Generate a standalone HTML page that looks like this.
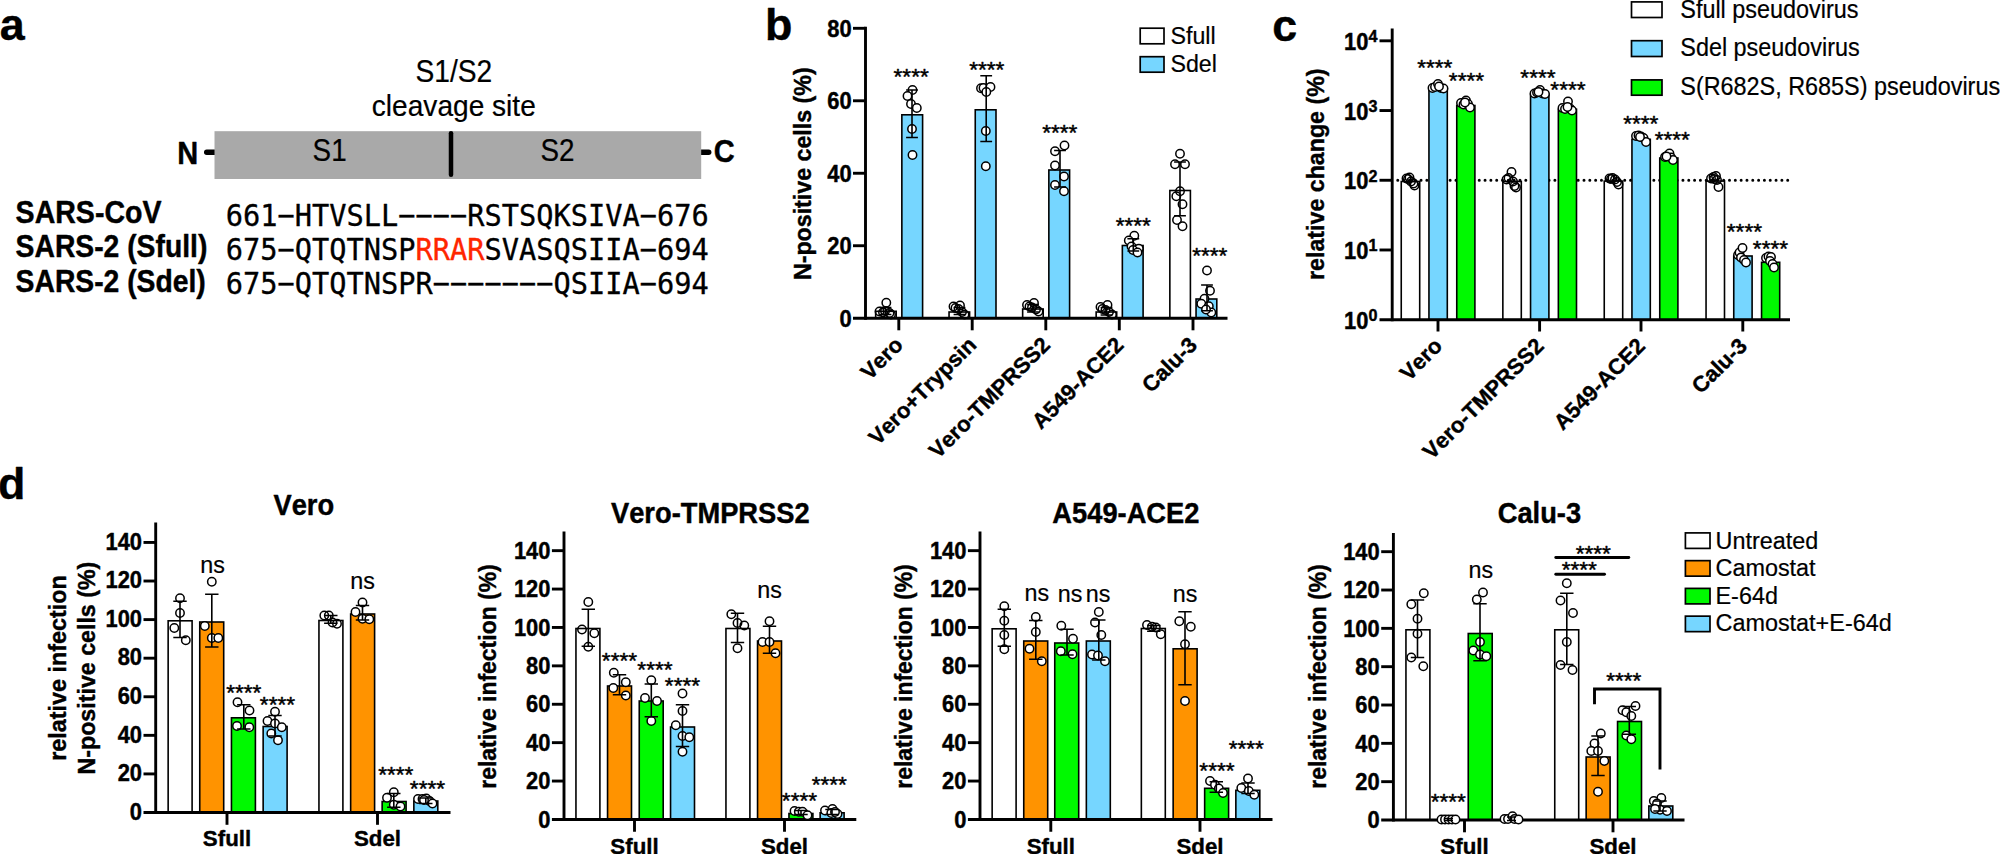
<!DOCTYPE html>
<html lang="en">
<head>
<meta charset="utf-8">
<title>Figure</title>
<style>
html,body{margin:0;padding:0;background:#fff;}
body{width:2000px;height:854px;overflow:hidden;}
svg{display:block;}
svg text{font-family:"Liberation Sans",sans-serif;fill:#000;font-kerning:none;}
svg text.m{font-family:"DejaVu Sans Mono","Liberation Mono",monospace;stroke-width:0.35px;}
svg text{stroke:#000;stroke-width:0.2px;stroke-linejoin:round;}
svg text[font-weight=bold]{stroke-width:0.4px;}
svg text.st{stroke-width:0.45px;}
svg text tspan[fill]{stroke:#FF2600;}
</style>
</head>
<body>
<svg width="2000" height="854" viewBox="0 0 2000 854">
<rect x="0" y="0" width="2000" height="854" fill="#fff"/>
<rect x="875.65" y="311.3" width="20.55" height="6.9" fill="#FFFFFF" stroke="#000" stroke-width="1.6"/>
<rect x="901.85" y="114.8" width="20.75" height="203.4" fill="#76D6FF" stroke="#000" stroke-width="1.6"/>
<rect x="949.05" y="312" width="20.55" height="6.2" fill="#FFFFFF" stroke="#000" stroke-width="1.6"/>
<rect x="975.25" y="109.8" width="20.75" height="208.4" fill="#76D6FF" stroke="#000" stroke-width="1.6"/>
<rect x="1022.65" y="309" width="20.55" height="9.2" fill="#FFFFFF" stroke="#000" stroke-width="1.6"/>
<rect x="1048.85" y="170" width="20.75" height="148.2" fill="#76D6FF" stroke="#000" stroke-width="1.6"/>
<rect x="1096.15" y="312" width="20.55" height="6.2" fill="#FFFFFF" stroke="#000" stroke-width="1.6"/>
<rect x="1122.35" y="245.5" width="20.75" height="72.7" fill="#76D6FF" stroke="#000" stroke-width="1.6"/>
<rect x="1169.85" y="190.5" width="20.55" height="127.7" fill="#FFFFFF" stroke="#000" stroke-width="1.6"/>
<rect x="1196.05" y="299" width="20.75" height="19.2" fill="#76D6FF" stroke="#000" stroke-width="1.6"/>
<line x1="1397.76" y1="180.3" x2="1788.5" y2="180.3" stroke="#000" stroke-width="3" stroke-linecap="round" stroke-dasharray="0 5.82"/>
<rect x="1401.25" y="181.5" width="18.45" height="138.2" fill="#FFFFFF" stroke="#000" stroke-width="1.6"/>
<rect x="1428.95" y="88.5" width="18.35" height="231.2" fill="#76D6FF" stroke="#000" stroke-width="1.6"/>
<rect x="1456.75" y="105.5" width="18.15" height="214.2" fill="#00F900" stroke="#000" stroke-width="1.6"/>
<rect x="1502.85" y="181.5" width="18.45" height="138.2" fill="#FFFFFF" stroke="#000" stroke-width="1.6"/>
<rect x="1530.55" y="94.3" width="18.35" height="225.4" fill="#76D6FF" stroke="#000" stroke-width="1.6"/>
<rect x="1558.35" y="109.3" width="18.15" height="210.4" fill="#00F900" stroke="#000" stroke-width="1.6"/>
<rect x="1604.25" y="181.1" width="18.45" height="138.6" fill="#FFFFFF" stroke="#000" stroke-width="1.6"/>
<rect x="1631.95" y="139.3" width="18.35" height="180.4" fill="#76D6FF" stroke="#000" stroke-width="1.6"/>
<rect x="1659.75" y="158" width="18.15" height="161.7" fill="#00F900" stroke="#000" stroke-width="1.6"/>
<rect x="1706.05" y="181.1" width="18.45" height="138.6" fill="#FFFFFF" stroke="#000" stroke-width="1.6"/>
<rect x="1733.75" y="256" width="18.35" height="63.7" fill="#76D6FF" stroke="#000" stroke-width="1.6"/>
<rect x="1761.55" y="262.3" width="18.15" height="57.4" fill="#00F900" stroke="#000" stroke-width="1.6"/>
<rect x="168.15" y="620.8" width="23.95" height="191.7" fill="#FFFFFF" stroke="#000" stroke-width="1.6"/>
<rect x="199.75" y="622" width="23.95" height="190.5" fill="#FF9300" stroke="#000" stroke-width="1.6"/>
<rect x="231.45" y="717.8" width="23.95" height="94.7" fill="#00F900" stroke="#000" stroke-width="1.6"/>
<rect x="263.15" y="726.5" width="23.95" height="86" fill="#76D6FF" stroke="#000" stroke-width="1.6"/>
<rect x="318.95" y="620.5" width="23.95" height="192" fill="#FFFFFF" stroke="#000" stroke-width="1.6"/>
<rect x="350.65" y="614" width="23.95" height="198.5" fill="#FF9300" stroke="#000" stroke-width="1.6"/>
<rect x="382.15" y="801.5" width="23.95" height="11" fill="#00F900" stroke="#000" stroke-width="1.6"/>
<rect x="413.85" y="801" width="23.95" height="11.5" fill="#76D6FF" stroke="#000" stroke-width="1.6"/>
<rect x="575.95" y="628.5" width="23.95" height="190.95" fill="#FFFFFF" stroke="#000" stroke-width="1.6"/>
<rect x="607.55" y="686" width="23.95" height="133.45" fill="#FF9300" stroke="#000" stroke-width="1.6"/>
<rect x="639.25" y="701" width="23.95" height="118.45" fill="#00F900" stroke="#000" stroke-width="1.6"/>
<rect x="670.55" y="727" width="23.95" height="92.45" fill="#76D6FF" stroke="#000" stroke-width="1.6"/>
<rect x="725.95" y="628.5" width="23.95" height="190.95" fill="#FFFFFF" stroke="#000" stroke-width="1.6"/>
<rect x="757.55" y="641" width="23.95" height="178.45" fill="#FF9300" stroke="#000" stroke-width="1.6"/>
<rect x="788.95" y="813.5" width="23.95" height="5.95" fill="#00F900" stroke="#000" stroke-width="1.6"/>
<rect x="820.15" y="812.8" width="23.95" height="6.65" fill="#76D6FF" stroke="#000" stroke-width="1.6"/>
<rect x="992.15" y="628.8" width="23.95" height="190.65" fill="#FFFFFF" stroke="#000" stroke-width="1.6"/>
<rect x="1023.75" y="641" width="23.95" height="178.45" fill="#FF9300" stroke="#000" stroke-width="1.6"/>
<rect x="1054.75" y="643" width="23.95" height="176.45" fill="#00F900" stroke="#000" stroke-width="1.6"/>
<rect x="1086.35" y="641" width="23.95" height="178.45" fill="#76D6FF" stroke="#000" stroke-width="1.6"/>
<rect x="1141.35" y="628.5" width="23.95" height="190.95" fill="#FFFFFF" stroke="#000" stroke-width="1.6"/>
<rect x="1173.15" y="648.8" width="23.95" height="170.65" fill="#FF9300" stroke="#000" stroke-width="1.6"/>
<rect x="1204.65" y="788.3" width="23.95" height="31.15" fill="#00F900" stroke="#000" stroke-width="1.6"/>
<rect x="1235.85" y="790.3" width="23.95" height="29.15" fill="#76D6FF" stroke="#000" stroke-width="1.6"/>
<rect x="1405.95" y="629.8" width="23.95" height="190.2" fill="#FFFFFF" stroke="#000" stroke-width="1.6"/>
<rect x="1468.25" y="633.5" width="23.95" height="186.5" fill="#00F900" stroke="#000" stroke-width="1.6"/>
<rect x="1554.75" y="629.8" width="23.95" height="190.2" fill="#FFFFFF" stroke="#000" stroke-width="1.6"/>
<rect x="1586.15" y="757" width="23.95" height="63" fill="#FF9300" stroke="#000" stroke-width="1.6"/>
<rect x="1617.55" y="721.5" width="23.95" height="98.5" fill="#00F900" stroke="#000" stroke-width="1.6"/>
<rect x="1648.85" y="806" width="23.95" height="14" fill="#76D6FF" stroke="#000" stroke-width="1.6"/>
<line x1="865.5" y1="26.7" x2="865.5" y2="319.65" stroke="#000" stroke-width="2.9"/>
<line x1="853" y1="318.2" x2="1227.5" y2="318.2" stroke="#000" stroke-width="2.9"/>
<line x1="853" y1="245.73" x2="865.5" y2="245.73" stroke="#000" stroke-width="2.9"/>
<line x1="853" y1="173.25" x2="865.5" y2="173.25" stroke="#000" stroke-width="2.9"/>
<line x1="853" y1="100.78" x2="865.5" y2="100.78" stroke="#000" stroke-width="2.9"/>
<line x1="853" y1="28.3" x2="865.5" y2="28.3" stroke="#000" stroke-width="2.9"/>
<line x1="898.8" y1="318.2" x2="898.8" y2="330.3" stroke="#000" stroke-width="2.9"/>
<line x1="972.2" y1="318.2" x2="972.2" y2="330.3" stroke="#000" stroke-width="2.9"/>
<line x1="1045.8" y1="318.2" x2="1045.8" y2="330.3" stroke="#000" stroke-width="2.9"/>
<line x1="1119.3" y1="318.2" x2="1119.3" y2="330.3" stroke="#000" stroke-width="2.9"/>
<line x1="1193" y1="318.2" x2="1193" y2="330.3" stroke="#000" stroke-width="2.9"/>
<line x1="1392.2" y1="28.5" x2="1392.2" y2="321.15" stroke="#000" stroke-width="2.9"/>
<line x1="1379.5" y1="319.7" x2="1790" y2="319.7" stroke="#000" stroke-width="2.9"/>
<line x1="1379.5" y1="249.98" x2="1392.2" y2="249.98" stroke="#000" stroke-width="2.9"/>
<line x1="1379.5" y1="180.26" x2="1392.2" y2="180.26" stroke="#000" stroke-width="2.9"/>
<line x1="1379.5" y1="110.54" x2="1392.2" y2="110.54" stroke="#000" stroke-width="2.9"/>
<line x1="1379.5" y1="40.82" x2="1392.2" y2="40.82" stroke="#000" stroke-width="2.9"/>
<line x1="1438" y1="319.7" x2="1438" y2="331.5" stroke="#000" stroke-width="2.9"/>
<line x1="1539.6" y1="319.7" x2="1539.6" y2="331.5" stroke="#000" stroke-width="2.9"/>
<line x1="1641" y1="319.7" x2="1641" y2="331.5" stroke="#000" stroke-width="2.9"/>
<line x1="1742.8" y1="319.7" x2="1742.8" y2="331.5" stroke="#000" stroke-width="2.9"/>
<line x1="155.7" y1="522.5" x2="155.7" y2="813.95" stroke="#000" stroke-width="2.9"/>
<line x1="143.5" y1="812.5" x2="450.5" y2="812.5" stroke="#000" stroke-width="2.9"/>
<line x1="143.5" y1="773.92" x2="155.7" y2="773.92" stroke="#000" stroke-width="2.9"/>
<line x1="143.5" y1="735.34" x2="155.7" y2="735.34" stroke="#000" stroke-width="2.9"/>
<line x1="143.5" y1="696.76" x2="155.7" y2="696.76" stroke="#000" stroke-width="2.9"/>
<line x1="143.5" y1="658.18" x2="155.7" y2="658.18" stroke="#000" stroke-width="2.9"/>
<line x1="143.5" y1="619.6" x2="155.7" y2="619.6" stroke="#000" stroke-width="2.9"/>
<line x1="143.5" y1="581.02" x2="155.7" y2="581.02" stroke="#000" stroke-width="2.9"/>
<line x1="143.5" y1="542.44" x2="155.7" y2="542.44" stroke="#000" stroke-width="2.9"/>
<line x1="227" y1="812.5" x2="227" y2="824.8" stroke="#000" stroke-width="2.9"/>
<line x1="377.5" y1="812.5" x2="377.5" y2="824.8" stroke="#000" stroke-width="2.9"/>
<line x1="564" y1="531.5" x2="564" y2="820.9" stroke="#000" stroke-width="2.9"/>
<line x1="551.9" y1="819.45" x2="856.3" y2="819.45" stroke="#000" stroke-width="2.9"/>
<line x1="551.9" y1="781.05" x2="564" y2="781.05" stroke="#000" stroke-width="2.9"/>
<line x1="551.9" y1="742.65" x2="564" y2="742.65" stroke="#000" stroke-width="2.9"/>
<line x1="551.9" y1="704.26" x2="564" y2="704.26" stroke="#000" stroke-width="2.9"/>
<line x1="551.9" y1="665.86" x2="564" y2="665.86" stroke="#000" stroke-width="2.9"/>
<line x1="551.9" y1="627.46" x2="564" y2="627.46" stroke="#000" stroke-width="2.9"/>
<line x1="551.9" y1="589.06" x2="564" y2="589.06" stroke="#000" stroke-width="2.9"/>
<line x1="551.9" y1="550.66" x2="564" y2="550.66" stroke="#000" stroke-width="2.9"/>
<line x1="634.5" y1="819.45" x2="634.5" y2="831.75" stroke="#000" stroke-width="2.9"/>
<line x1="784.5" y1="819.45" x2="784.5" y2="831.75" stroke="#000" stroke-width="2.9"/>
<line x1="980" y1="531.5" x2="980" y2="820.9" stroke="#000" stroke-width="2.9"/>
<line x1="967.9" y1="819.45" x2="1272.5" y2="819.45" stroke="#000" stroke-width="2.9"/>
<line x1="967.9" y1="781.05" x2="980" y2="781.05" stroke="#000" stroke-width="2.9"/>
<line x1="967.9" y1="742.65" x2="980" y2="742.65" stroke="#000" stroke-width="2.9"/>
<line x1="967.9" y1="704.26" x2="980" y2="704.26" stroke="#000" stroke-width="2.9"/>
<line x1="967.9" y1="665.86" x2="980" y2="665.86" stroke="#000" stroke-width="2.9"/>
<line x1="967.9" y1="627.46" x2="980" y2="627.46" stroke="#000" stroke-width="2.9"/>
<line x1="967.9" y1="589.06" x2="980" y2="589.06" stroke="#000" stroke-width="2.9"/>
<line x1="967.9" y1="550.66" x2="980" y2="550.66" stroke="#000" stroke-width="2.9"/>
<line x1="1050.8" y1="819.45" x2="1050.8" y2="831.75" stroke="#000" stroke-width="2.9"/>
<line x1="1200" y1="819.45" x2="1200" y2="831.75" stroke="#000" stroke-width="2.9"/>
<line x1="1393.4" y1="533" x2="1393.4" y2="821.45" stroke="#000" stroke-width="2.9"/>
<line x1="1381.2" y1="820" x2="1684.5" y2="820" stroke="#000" stroke-width="2.9"/>
<line x1="1381.2" y1="781.67" x2="1393.4" y2="781.67" stroke="#000" stroke-width="2.9"/>
<line x1="1381.2" y1="743.34" x2="1393.4" y2="743.34" stroke="#000" stroke-width="2.9"/>
<line x1="1381.2" y1="705.01" x2="1393.4" y2="705.01" stroke="#000" stroke-width="2.9"/>
<line x1="1381.2" y1="666.68" x2="1393.4" y2="666.68" stroke="#000" stroke-width="2.9"/>
<line x1="1381.2" y1="628.35" x2="1393.4" y2="628.35" stroke="#000" stroke-width="2.9"/>
<line x1="1381.2" y1="590.02" x2="1393.4" y2="590.02" stroke="#000" stroke-width="2.9"/>
<line x1="1381.2" y1="551.69" x2="1393.4" y2="551.69" stroke="#000" stroke-width="2.9"/>
<line x1="1464.5" y1="820" x2="1464.5" y2="832.3" stroke="#000" stroke-width="2.9"/>
<line x1="1613" y1="820" x2="1613" y2="832.3" stroke="#000" stroke-width="2.9"/>
<g fill="#fff" stroke="#000" stroke-width="1.5">
<circle cx="879.5" cy="311.5" r="4.2" fill="none"/>
<circle cx="883" cy="312.5" r="4.2" fill="none"/>
<circle cx="886.3" cy="302.7" r="4.2" fill="none"/>
<circle cx="885" cy="311" r="4.2" fill="none"/>
<circle cx="889.5" cy="313" r="4.2" fill="none"/>
<circle cx="891" cy="314.5" r="4.2" fill="none"/>
<circle cx="953.5" cy="306.5" r="4.2" fill="none"/>
<circle cx="955.5" cy="308" r="4.2" fill="none"/>
<circle cx="958.5" cy="309" r="4.2" fill="none"/>
<circle cx="960" cy="305.5" r="4.2" fill="none"/>
<circle cx="962" cy="312" r="4.2" fill="none"/>
<circle cx="964.5" cy="314.5" r="4.2" fill="none"/>
<circle cx="1027" cy="305" r="4.2" fill="none"/>
<circle cx="1029.5" cy="306.5" r="4.2" fill="none"/>
<circle cx="1032" cy="307.5" r="4.2" fill="none"/>
<circle cx="1034" cy="303" r="4.2" fill="none"/>
<circle cx="1036" cy="309.5" r="4.2" fill="none"/>
<circle cx="1038.5" cy="311.5" r="4.2" fill="none"/>
<circle cx="1100.5" cy="307" r="4.2" fill="none"/>
<circle cx="1102.5" cy="309" r="4.2" fill="none"/>
<circle cx="1105.5" cy="310" r="4.2" fill="none"/>
<circle cx="1107.5" cy="305" r="4.2" fill="none"/>
<circle cx="1109" cy="312" r="4.2" fill="none"/>
<circle cx="1112" cy="314.5" r="4.2" fill="none"/>
<circle cx="912.5" cy="90" r="4.2"/>
<circle cx="907.5" cy="96" r="4.2"/>
<circle cx="911" cy="104" r="4.2"/>
<circle cx="916.8" cy="108" r="4.2"/>
<circle cx="912" cy="129" r="4.2"/>
<circle cx="912.5" cy="155" r="4.2"/>
<circle cx="981" cy="88.2" r="4.2"/>
<circle cx="983.5" cy="88" r="4.2"/>
<circle cx="990.5" cy="87" r="4.2"/>
<circle cx="986.3" cy="92" r="4.2"/>
<circle cx="985.8" cy="131" r="4.2"/>
<circle cx="985.8" cy="166.2" r="4.2"/>
<circle cx="1064.5" cy="145.5" r="4.2"/>
<circle cx="1055" cy="151.3" r="4.2"/>
<circle cx="1055" cy="165.5" r="4.2"/>
<circle cx="1064" cy="176.5" r="4.2"/>
<circle cx="1055" cy="185" r="4.2"/>
<circle cx="1064" cy="191.2" r="4.2"/>
<circle cx="1134.3" cy="235.7" r="4.2"/>
<circle cx="1128.8" cy="240.5" r="4.2"/>
<circle cx="1131.5" cy="246.5" r="4.2"/>
<circle cx="1138.8" cy="248.7" r="4.2"/>
<circle cx="1133" cy="250" r="4.2"/>
<circle cx="1137.5" cy="252.5" r="4.2"/>
<circle cx="1180" cy="153.8" r="4.2" fill="none"/>
<circle cx="1175" cy="164.3" r="4.2" fill="none"/>
<circle cx="1185" cy="164.3" r="4.2" fill="none"/>
<circle cx="1180" cy="191.3" r="4.2" fill="none"/>
<circle cx="1176.3" cy="196.3" r="4.2" fill="none"/>
<circle cx="1182.5" cy="204.3" r="4.2" fill="none"/>
<circle cx="1177" cy="220" r="4.2" fill="none"/>
<circle cx="1182.5" cy="226.3" r="4.2" fill="none"/>
<circle cx="1207" cy="270.5" r="4.2"/>
<circle cx="1210" cy="290.8" r="4.2"/>
<circle cx="1204.5" cy="298.8" r="4.2"/>
<circle cx="1201.3" cy="303.8" r="4.2"/>
<circle cx="1208.8" cy="306.3" r="4.2"/>
<circle cx="1211.3" cy="312.5" r="4.2"/>
<circle cx="1206" cy="309.5" r="4.2"/>
<circle cx="1406.5" cy="178.5" r="4.2" fill="none"/>
<circle cx="1409.5" cy="177.5" r="4.2" fill="none"/>
<circle cx="1411" cy="181.5" r="4.2" fill="none"/>
<circle cx="1413.5" cy="183.5" r="4.2" fill="none"/>
<circle cx="1414.5" cy="185.5" r="4.2" fill="none"/>
<circle cx="1408" cy="179" r="4.2" fill="none"/>
<circle cx="1432.5" cy="88" r="4.2"/>
<circle cx="1435" cy="87" r="4.2"/>
<circle cx="1438" cy="84" r="4.2"/>
<circle cx="1441" cy="88" r="4.2"/>
<circle cx="1443.5" cy="88.5" r="4.2"/>
<circle cx="1439" cy="86.5" r="4.2"/>
<circle cx="1461" cy="103" r="4.2"/>
<circle cx="1463.5" cy="104.5" r="4.2"/>
<circle cx="1466" cy="100.5" r="4.2"/>
<circle cx="1468" cy="104" r="4.2"/>
<circle cx="1470" cy="107.5" r="4.2"/>
<circle cx="1465" cy="102.5" r="4.2"/>
<circle cx="1506.5" cy="179.5" r="4.2" fill="none"/>
<circle cx="1508.5" cy="178" r="4.2" fill="none"/>
<circle cx="1511.5" cy="172" r="4.2" fill="none"/>
<circle cx="1513" cy="181.5" r="4.2" fill="none"/>
<circle cx="1514.5" cy="186" r="4.2" fill="none"/>
<circle cx="1516" cy="187.5" r="4.2" fill="none"/>
<circle cx="1534.5" cy="93.5" r="4.2"/>
<circle cx="1537" cy="92.5" r="4.2"/>
<circle cx="1540" cy="90" r="4.2"/>
<circle cx="1542.5" cy="93.5" r="4.2"/>
<circle cx="1545" cy="94" r="4.2"/>
<circle cx="1538.5" cy="92" r="4.2"/>
<circle cx="1562.5" cy="108" r="4.2"/>
<circle cx="1565" cy="109" r="4.2"/>
<circle cx="1568" cy="101.5" r="4.2"/>
<circle cx="1570" cy="108.5" r="4.2"/>
<circle cx="1572" cy="110.5" r="4.2"/>
<circle cx="1567.5" cy="107" r="4.2"/>
<circle cx="1609.5" cy="178.5" r="4.2" fill="none"/>
<circle cx="1612.5" cy="178" r="4.2" fill="none"/>
<circle cx="1615" cy="179.5" r="4.2" fill="none"/>
<circle cx="1617" cy="182" r="4.2" fill="none"/>
<circle cx="1618.5" cy="184.5" r="4.2" fill="none"/>
<circle cx="1611" cy="179" r="4.2" fill="none"/>
<circle cx="1636" cy="136" r="4.2"/>
<circle cx="1638.5" cy="135.5" r="4.2"/>
<circle cx="1641" cy="136.5" r="4.2"/>
<circle cx="1643.5" cy="138" r="4.2"/>
<circle cx="1646" cy="142" r="4.2"/>
<circle cx="1640" cy="137" r="4.2"/>
<circle cx="1665" cy="157" r="4.2"/>
<circle cx="1667.5" cy="155.5" r="4.2"/>
<circle cx="1669.5" cy="153.5" r="4.2"/>
<circle cx="1671" cy="157.5" r="4.2"/>
<circle cx="1673" cy="160" r="4.2"/>
<circle cx="1666.5" cy="156.5" r="4.2"/>
<circle cx="1711" cy="178.5" r="4.2" fill="none"/>
<circle cx="1713.5" cy="177" r="4.2" fill="none"/>
<circle cx="1716" cy="176" r="4.2" fill="none"/>
<circle cx="1717" cy="180" r="4.2" fill="none"/>
<circle cx="1718.5" cy="187" r="4.2" fill="none"/>
<circle cx="1714" cy="179" r="4.2" fill="none"/>
<circle cx="1738" cy="255" r="4.2"/>
<circle cx="1739.5" cy="252.5" r="4.2"/>
<circle cx="1742.5" cy="248" r="4.2"/>
<circle cx="1741" cy="257.5" r="4.2"/>
<circle cx="1744" cy="260" r="4.2"/>
<circle cx="1746" cy="262.5" r="4.2"/>
<circle cx="1766" cy="258" r="4.2"/>
<circle cx="1768.5" cy="256.5" r="4.2"/>
<circle cx="1771" cy="257" r="4.2"/>
<circle cx="1770" cy="261" r="4.2"/>
<circle cx="1772.5" cy="264" r="4.2"/>
<circle cx="1774" cy="267.5" r="4.2"/>
<circle cx="180" cy="598.3" r="4.2" fill="none"/>
<circle cx="180" cy="613" r="4.2" fill="none"/>
<circle cx="174.3" cy="628" r="4.2" fill="none"/>
<circle cx="185.8" cy="640.3" r="4.2" fill="none"/>
<circle cx="211.8" cy="581.8" r="4.2"/>
<circle cx="204.8" cy="626" r="4.2"/>
<circle cx="211.8" cy="638" r="4.2"/>
<circle cx="218.3" cy="638" r="4.2"/>
<circle cx="237.5" cy="702.3" r="4.2"/>
<circle cx="249.5" cy="710.5" r="4.2"/>
<circle cx="237" cy="726" r="4.2"/>
<circle cx="249.3" cy="727.3" r="4.2"/>
<circle cx="275" cy="711.8" r="4.2"/>
<circle cx="267.5" cy="721" r="4.2"/>
<circle cx="275" cy="723.5" r="4.2"/>
<circle cx="281.8" cy="727.3" r="4.2"/>
<circle cx="271.3" cy="733.5" r="4.2"/>
<circle cx="278" cy="740.3" r="4.2"/>
<circle cx="324.3" cy="615.5" r="4.2" fill="none"/>
<circle cx="328.8" cy="615.5" r="4.2" fill="none"/>
<circle cx="332.5" cy="622.5" r="4.2" fill="none"/>
<circle cx="337" cy="623.8" r="4.2" fill="none"/>
<circle cx="362.5" cy="602.5" r="4.2"/>
<circle cx="355.5" cy="612" r="4.2"/>
<circle cx="362.5" cy="618.8" r="4.2"/>
<circle cx="369.3" cy="619.3" r="4.2"/>
<circle cx="393.8" cy="792.3" r="4.2"/>
<circle cx="387" cy="797.8" r="4.2"/>
<circle cx="393.8" cy="804.8" r="4.2"/>
<circle cx="400.5" cy="806.5" r="4.2"/>
<circle cx="418" cy="799" r="4.2"/>
<circle cx="422.5" cy="799" r="4.2"/>
<circle cx="426.3" cy="798.5" r="4.2"/>
<circle cx="429.5" cy="801" r="4.2"/>
<circle cx="432.5" cy="803.5" r="4.2"/>
<circle cx="424" cy="800" r="4.2"/>
<circle cx="588.3" cy="602" r="4.2" fill="none"/>
<circle cx="582" cy="629.5" r="4.2" fill="none"/>
<circle cx="594.3" cy="633.3" r="4.2" fill="none"/>
<circle cx="588.3" cy="646.8" r="4.2" fill="none"/>
<circle cx="613.8" cy="672.8" r="4.2"/>
<circle cx="625.8" cy="682.3" r="4.2"/>
<circle cx="613.3" cy="688" r="4.2"/>
<circle cx="625.8" cy="695.5" r="4.2"/>
<circle cx="651.3" cy="680.3" r="4.2"/>
<circle cx="645" cy="698" r="4.2"/>
<circle cx="657" cy="701" r="4.2"/>
<circle cx="651.3" cy="721" r="4.2"/>
<circle cx="682.5" cy="693.5" r="4.2"/>
<circle cx="682.5" cy="711" r="4.2"/>
<circle cx="675.8" cy="725.3" r="4.2"/>
<circle cx="682.5" cy="736" r="4.2"/>
<circle cx="689.3" cy="737.3" r="4.2"/>
<circle cx="682.5" cy="751.8" r="4.2"/>
<circle cx="731.3" cy="614.3" r="4.2" fill="none"/>
<circle cx="737.5" cy="623" r="4.2" fill="none"/>
<circle cx="744.3" cy="625.5" r="4.2" fill="none"/>
<circle cx="737.5" cy="648.3" r="4.2" fill="none"/>
<circle cx="769.5" cy="621.3" r="4.2"/>
<circle cx="762.5" cy="642" r="4.2"/>
<circle cx="769.5" cy="642" r="4.2"/>
<circle cx="775.5" cy="653.3" r="4.2"/>
<circle cx="794.5" cy="811" r="4.2"/>
<circle cx="798.8" cy="811.8" r="4.2"/>
<circle cx="802.5" cy="811.8" r="4.2"/>
<circle cx="807.5" cy="815.3" r="4.2"/>
<circle cx="825" cy="810.5" r="4.2"/>
<circle cx="832.5" cy="809" r="4.2"/>
<circle cx="831.3" cy="813" r="4.2"/>
<circle cx="837.5" cy="814" r="4.2"/>
<circle cx="835" cy="812" r="4.2"/>
<circle cx="1004.3" cy="606.3" r="4.2" fill="none"/>
<circle cx="1004.3" cy="620.8" r="4.2" fill="none"/>
<circle cx="1004.3" cy="635" r="4.2" fill="none"/>
<circle cx="1004.3" cy="649.3" r="4.2" fill="none"/>
<circle cx="1035.8" cy="617" r="4.2"/>
<circle cx="1035.8" cy="632" r="4.2"/>
<circle cx="1029.5" cy="648.8" r="4.2"/>
<circle cx="1041.8" cy="661.3" r="4.2"/>
<circle cx="1061.3" cy="625.8" r="4.2"/>
<circle cx="1073" cy="638.8" r="4.2"/>
<circle cx="1060.8" cy="651.3" r="4.2"/>
<circle cx="1072.5" cy="654.3" r="4.2"/>
<circle cx="1098.8" cy="612" r="4.2"/>
<circle cx="1095" cy="622.5" r="4.2"/>
<circle cx="1101.3" cy="635" r="4.2"/>
<circle cx="1092" cy="654.5" r="4.2"/>
<circle cx="1098" cy="655.5" r="4.2"/>
<circle cx="1105" cy="661.3" r="4.2"/>
<circle cx="1147" cy="625" r="4.2" fill="none"/>
<circle cx="1152" cy="626.8" r="4.2" fill="none"/>
<circle cx="1155.8" cy="627.5" r="4.2" fill="none"/>
<circle cx="1160.8" cy="634.3" r="4.2" fill="none"/>
<circle cx="1179.3" cy="621.3" r="4.2"/>
<circle cx="1190.8" cy="626.8" r="4.2"/>
<circle cx="1185" cy="644.3" r="4.2"/>
<circle cx="1185" cy="701" r="4.2"/>
<circle cx="1210" cy="781" r="4.2"/>
<circle cx="1215" cy="784.8" r="4.2"/>
<circle cx="1218.8" cy="788.5" r="4.2"/>
<circle cx="1223" cy="793" r="4.2"/>
<circle cx="1248" cy="778.5" r="4.2"/>
<circle cx="1241.3" cy="788" r="4.2"/>
<circle cx="1248.8" cy="791" r="4.2"/>
<circle cx="1254.3" cy="794.8" r="4.2"/>
<circle cx="1423.8" cy="593.3" r="4.2" fill="none"/>
<circle cx="1411.3" cy="604.3" r="4.2" fill="none"/>
<circle cx="1417.5" cy="618.8" r="4.2" fill="none"/>
<circle cx="1417.5" cy="633.8" r="4.2" fill="none"/>
<circle cx="1411.3" cy="657.5" r="4.2" fill="none"/>
<circle cx="1423.3" cy="666.3" r="4.2" fill="none"/>
<circle cx="1441.5" cy="819.5" r="4.2"/>
<circle cx="1445" cy="819.5" r="4.2"/>
<circle cx="1448.5" cy="819.5" r="4.2"/>
<circle cx="1452" cy="819.5" r="4.2"/>
<circle cx="1455.5" cy="819.5" r="4.2"/>
<circle cx="1483" cy="592.5" r="4.2"/>
<circle cx="1476.8" cy="599.5" r="4.2"/>
<circle cx="1480" cy="642" r="4.2"/>
<circle cx="1473.3" cy="650.5" r="4.2"/>
<circle cx="1480" cy="654.5" r="4.2"/>
<circle cx="1486.3" cy="656.3" r="4.2"/>
<circle cx="1504.5" cy="819" r="4.2"/>
<circle cx="1508" cy="819" r="4.2"/>
<circle cx="1512.5" cy="816.3" r="4.2"/>
<circle cx="1514.5" cy="819" r="4.2"/>
<circle cx="1518.5" cy="819.5" r="4.2"/>
<circle cx="1566.8" cy="583.3" r="4.2" fill="none"/>
<circle cx="1560.5" cy="600.5" r="4.2" fill="none"/>
<circle cx="1573" cy="613" r="4.2" fill="none"/>
<circle cx="1566.8" cy="642" r="4.2" fill="none"/>
<circle cx="1560.5" cy="665" r="4.2" fill="none"/>
<circle cx="1572.5" cy="670" r="4.2" fill="none"/>
<circle cx="1600.8" cy="733.5" r="4.2"/>
<circle cx="1594.5" cy="743.5" r="4.2"/>
<circle cx="1591.3" cy="751" r="4.2"/>
<circle cx="1598" cy="751" r="4.2"/>
<circle cx="1604.3" cy="761" r="4.2"/>
<circle cx="1598" cy="791.8" r="4.2"/>
<circle cx="1635.5" cy="706" r="4.2"/>
<circle cx="1622.5" cy="710.3" r="4.2"/>
<circle cx="1626.3" cy="712.3" r="4.2"/>
<circle cx="1631.3" cy="716" r="4.2"/>
<circle cx="1626.3" cy="735.5" r="4.2"/>
<circle cx="1631.3" cy="739.3" r="4.2"/>
<circle cx="1661.3" cy="798" r="4.2"/>
<circle cx="1653.8" cy="801" r="4.2"/>
<circle cx="1657" cy="803.5" r="4.2"/>
<circle cx="1660" cy="809.8" r="4.2"/>
<circle cx="1667" cy="811" r="4.2"/>
<circle cx="1655" cy="809" r="4.2"/>
</g>
<path d="M885.5 307.5V314.5M879.6 307.5H891.4M879.6 314.5H891.4" fill="none" stroke="#000" stroke-width="1.6"/>
<path d="M959.5 307.5V314.5M953.6 307.5H965.4M953.6 314.5H965.4" fill="none" stroke="#000" stroke-width="1.6"/>
<path d="M1033 304.5V312M1027.1 304.5H1038.9M1027.1 312H1038.9" fill="none" stroke="#000" stroke-width="1.6"/>
<path d="M1106.5 307.5V315M1100.6 307.5H1112.4M1100.6 315H1112.4" fill="none" stroke="#000" stroke-width="1.6"/>
<path d="M912 90V137.5M906.1 90H917.9M906.1 137.5H917.9" fill="none" stroke="#000" stroke-width="1.6"/>
<path d="M986.2 75.8V141.5M980.3 75.8H992.1M980.3 141.5H992.1" fill="none" stroke="#000" stroke-width="1.6"/>
<path d="M1060 150.5V187M1054.1 150.5H1065.9M1054.1 187H1065.9" fill="none" stroke="#000" stroke-width="1.6"/>
<path d="M1133.3 238.8V251M1127.4 238.8H1139.2M1127.4 251H1139.2" fill="none" stroke="#000" stroke-width="1.6"/>
<path d="M1180 162V215.8M1174.1 162H1185.9M1174.1 215.8H1185.9" fill="none" stroke="#000" stroke-width="1.6"/>
<path d="M1207 285V310.8M1201.1 285H1212.9M1201.1 310.8H1212.9" fill="none" stroke="#000" stroke-width="1.6"/>
<path d="M180 601.3V637.5M173.3 601.3H186.7M173.3 637.5H186.7" fill="none" stroke="#000" stroke-width="1.6"/>
<path d="M211.8 594.3V647M205.1 594.3H218.5M205.1 647H218.5" fill="none" stroke="#000" stroke-width="1.6"/>
<path d="M243.8 704.8V729M237.1 704.8H250.5M237.1 729H250.5" fill="none" stroke="#000" stroke-width="1.6"/>
<path d="M275 715.5V736M268.3 715.5H281.7M268.3 736H281.7" fill="none" stroke="#000" stroke-width="1.6"/>
<path d="M330.8 615.5V623.3M324.1 615.5H337.5M324.1 623.3H337.5" fill="none" stroke="#000" stroke-width="1.6"/>
<path d="M362.5 605.5V620M355.8 605.5H369.2M355.8 620H369.2" fill="none" stroke="#000" stroke-width="1.6"/>
<path d="M393.8 793.5V807.3M387.1 793.5H400.5M387.1 807.3H400.5" fill="none" stroke="#000" stroke-width="1.6"/>
<path d="M425.8 798V803.5M419.1 798H432.5M419.1 803.5H432.5" fill="none" stroke="#000" stroke-width="1.6"/>
<path d="M588.3 609.3V646.3M581.6 609.3H595M581.6 646.3H595" fill="none" stroke="#000" stroke-width="1.6"/>
<path d="M619.5 674.8V694.8M612.8 674.8H626.2M612.8 694.8H626.2" fill="none" stroke="#000" stroke-width="1.6"/>
<path d="M651.3 684V716.8M644.6 684H658M644.6 716.8H658" fill="none" stroke="#000" stroke-width="1.6"/>
<path d="M682.5 704.8V746.5M675.8 704.8H689.2M675.8 746.5H689.2" fill="none" stroke="#000" stroke-width="1.6"/>
<path d="M737.5 613.3V642.5M730.8 613.3H744.2M730.8 642.5H744.2" fill="none" stroke="#000" stroke-width="1.6"/>
<path d="M769.5 626.3V653.3M762.8 626.3H776.2M762.8 653.3H776.2" fill="none" stroke="#000" stroke-width="1.6"/>
<path d="M801 810.5V814.5M794.3 810.5H807.7M794.3 814.5H807.7" fill="none" stroke="#000" stroke-width="1.6"/>
<path d="M832 809.5V814.5M825.3 809.5H838.7M825.3 814.5H838.7" fill="none" stroke="#000" stroke-width="1.6"/>
<path d="M1004.3 609.3V646.3M997.6 609.3H1011M997.6 646.3H1011" fill="none" stroke="#000" stroke-width="1.6"/>
<path d="M1035.8 620.5V659.3M1029.1 620.5H1042.5M1029.1 659.3H1042.5" fill="none" stroke="#000" stroke-width="1.6"/>
<path d="M1067 629.3V655M1060.3 629.3H1073.7M1060.3 655H1073.7" fill="none" stroke="#000" stroke-width="1.6"/>
<path d="M1098.8 620V660M1092.1 620H1105.5M1092.1 660H1105.5" fill="none" stroke="#000" stroke-width="1.6"/>
<path d="M1153.8 625.5V631.3M1147.1 625.5H1160.5M1147.1 631.3H1160.5" fill="none" stroke="#000" stroke-width="1.6"/>
<path d="M1185 611.8V684.8M1178.3 611.8H1191.7M1178.3 684.8H1191.7" fill="none" stroke="#000" stroke-width="1.6"/>
<path d="M1216.3 781.8V792.3M1209.6 781.8H1223M1209.6 792.3H1223" fill="none" stroke="#000" stroke-width="1.6"/>
<path d="M1248 783V793.5M1241.3 783H1254.7M1241.3 793.5H1254.7" fill="none" stroke="#000" stroke-width="1.6"/>
<path d="M1417.5 600V657.5M1410.8 600H1424.2M1410.8 657.5H1424.2" fill="none" stroke="#000" stroke-width="1.6"/>
<path d="M1480 603.8V660.8M1473.3 603.8H1486.7M1473.3 660.8H1486.7" fill="none" stroke="#000" stroke-width="1.6"/>
<path d="M1566.8 593.3V664.5M1560.1 593.3H1573.5M1560.1 664.5H1573.5" fill="none" stroke="#000" stroke-width="1.6"/>
<path d="M1598 736V775.5M1591.3 736H1604.7M1591.3 775.5H1604.7" fill="none" stroke="#000" stroke-width="1.6"/>
<path d="M1629.3 706.5V734.3M1622.6 706.5H1636M1622.6 734.3H1636" fill="none" stroke="#000" stroke-width="1.6"/>
<path d="M1660 801V811M1653.3 801H1666.7M1653.3 811H1666.7" fill="none" stroke="#000" stroke-width="1.6"/>
<path d="M1448.5 818.5V820.5M1444 818.5H1453M1444 820.5H1453" fill="none" stroke="#000" stroke-width="1.6"/>
<path d="M1511.5 817V820.5M1507 817H1516M1507 820.5H1516" fill="none" stroke="#000" stroke-width="1.6"/>
<text x="-0.2" y="40.4" font-size="44.8" font-weight="bold">a</text>
<text font-size="28.2" text-anchor="middle" transform="translate(453.9 81.9) scale(1 1.11)">S1/S2</text>
<text font-size="28.1" text-anchor="middle" transform="translate(453.8 116) scale(1 1.04)">cleavage site</text>
<line x1="206.7" y1="152.3" x2="220" y2="152.3" stroke="#000" stroke-width="5.4" stroke-linecap="round"/>
<line x1="696" y1="152.3" x2="708.7" y2="152.3" stroke="#000" stroke-width="5.4" stroke-linecap="round"/>
<rect x="214.5" y="131.2" width="486.7" height="47.8" fill="#A9A9A9"/>
<line x1="451" y1="133.2" x2="451" y2="174.8" stroke="#000" stroke-width="4.5" stroke-linecap="round"/>
<text font-size="29" font-weight="bold" transform="translate(177.2 163.9) scale(1 1.08)">N</text>
<text font-size="29" font-weight="bold" transform="translate(713.8 162.4) scale(1 1.08)">C</text>
<text font-size="27.8" text-anchor="middle" transform="translate(329.6 161.2) scale(1 1.1)">S1</text>
<text font-size="27.8" text-anchor="middle" transform="translate(557.4 161.2) scale(1 1.1)">S2</text>
<text font-size="28.55" font-weight="bold" transform="translate(15.6 222.9) scale(1 1.1)">SARS-CoV</text>
<text font-size="28.3" font-weight="bold" transform="translate(15.6 257.3) scale(1 1.1)">SARS-2 (Sfull)</text>
<text font-size="28.3" font-weight="bold" transform="translate(15.6 291.8) scale(1 1.1)">SARS-2 (Sdel)</text>
<text x="225.8" y="226.3" font-size="30.75" class="m" textLength="483" lengthAdjust="spacingAndGlyphs">661−HTVSLL−−−−RSTSQKSIVA−676</text>
<text x="225.8" y="259.6" font-size="30.75" class="m" textLength="483" lengthAdjust="spacingAndGlyphs">675−QTQTNSP<tspan fill="#FF2600">RRAR</tspan>SVASQSIIA−694</text>
<text x="225.8" y="293.6" font-size="30.75" class="m" textLength="483" lengthAdjust="spacingAndGlyphs">675−QTQTNSPR−−−−−−−QSIIA−694</text>
<text x="765.1" y="40.3" font-size="44.8" font-weight="bold">b</text>
<text font-size="21.9" text-anchor="end" font-weight="bold" transform="translate(851.6 326.5) scale(1 1.05)">0</text>
<text font-size="21.9" text-anchor="end" font-weight="bold" transform="translate(851.6 254.03) scale(1 1.05)">20</text>
<text font-size="21.9" text-anchor="end" font-weight="bold" transform="translate(851.6 181.55) scale(1 1.05)">40</text>
<text font-size="21.9" text-anchor="end" font-weight="bold" transform="translate(851.6 109.08) scale(1 1.05)">60</text>
<text font-size="21.9" text-anchor="end" font-weight="bold" transform="translate(851.6 36.6) scale(1 1.05)">80</text>
<text font-size="23.2" text-anchor="middle" font-weight="bold" transform="translate(810.6 173.7) rotate(-90) scale(1 1.03)">N-positive cells (%)</text>
<text x="911.2" y="84.12" font-size="22.7" text-anchor="middle" class="st">****</text>
<text x="986.8" y="76.92" font-size="22.7" text-anchor="middle" class="st">****</text>
<text x="1059.8" y="140.12" font-size="22.7" text-anchor="middle" class="st">****</text>
<text x="1133.3" y="232.92" font-size="22.7" text-anchor="middle" class="st">****</text>
<text x="1209.8" y="263.12" font-size="22.7" text-anchor="middle" class="st">****</text>
<rect x="1140.2" y="28.2" width="23.8" height="15.6" fill="#FFFFFF" stroke="#000" stroke-width="1.7"/>
<rect x="1140.2" y="56.7" width="23.8" height="15.5" fill="#76D6FF" stroke="#000" stroke-width="1.7"/>
<text font-size="23.2" transform="translate(1170.5 43.9) scale(1 1.07)">Sfull</text>
<text font-size="23.2" transform="translate(1170.5 72.3) scale(1 1.07)">Sdel</text>
<text font-size="22" text-anchor="end" font-weight="bold" transform="translate(904.3 346.3) rotate(-45)">Vero</text>
<text font-size="22" text-anchor="end" font-weight="bold" transform="translate(977.7 346.3) rotate(-45)">Vero+Trypsin</text>
<text font-size="22" text-anchor="end" font-weight="bold" transform="translate(1051.3 346.3) rotate(-45)">Vero-TMPRSS2</text>
<text font-size="22" text-anchor="end" font-weight="bold" transform="translate(1124.8 346.3) rotate(-45)">A549-ACE2</text>
<text font-size="22" text-anchor="end" font-weight="bold" transform="translate(1198.5 346.3) rotate(-45)">Calu-3</text>
<text x="1272.3" y="40.6" font-size="44.8" font-weight="bold">c</text>
<text transform="translate(1377.4 328.7) scale(1 1.05)" font-size="21.9" font-weight="bold" text-anchor="end">10<tspan font-size="16.2" dy="-7.3">0</tspan></text>
<text transform="translate(1377.4 258.98) scale(1 1.05)" font-size="21.9" font-weight="bold" text-anchor="end">10<tspan font-size="16.2" dy="-7.3">1</tspan></text>
<text transform="translate(1377.4 189.26) scale(1 1.05)" font-size="21.9" font-weight="bold" text-anchor="end">10<tspan font-size="16.2" dy="-7.3">2</tspan></text>
<text transform="translate(1377.4 119.54) scale(1 1.05)" font-size="21.9" font-weight="bold" text-anchor="end">10<tspan font-size="16.2" dy="-7.3">3</tspan></text>
<text transform="translate(1377.4 49.82) scale(1 1.05)" font-size="21.9" font-weight="bold" text-anchor="end">10<tspan font-size="16.2" dy="-7.3">4</tspan></text>
<text font-size="23.2" text-anchor="middle" font-weight="bold" transform="translate(1323.8 174.2) rotate(-90) scale(1 1.03)">relative change (%)</text>
<text x="1434.8" y="74.62" font-size="22.7" text-anchor="middle" class="st">****</text>
<text x="1466.5" y="87.92" font-size="22.7" text-anchor="middle" class="st">****</text>
<text x="1538" y="84.62" font-size="22.7" text-anchor="middle" class="st">****</text>
<text x="1568" y="97.12" font-size="22.7" text-anchor="middle" class="st">****</text>
<text x="1640.8" y="131.12" font-size="22.7" text-anchor="middle" class="st">****</text>
<text x="1672.3" y="147.42" font-size="22.7" text-anchor="middle" class="st">****</text>
<text x="1744.4" y="238.92" font-size="22.7" text-anchor="middle" class="st">****</text>
<text x="1770.5" y="256.42" font-size="22.7" text-anchor="middle" class="st">****</text>
<rect x="1631.5" y="1.9" width="30.5" height="15.6" fill="#FFFFFF" stroke="#000" stroke-width="1.7"/>
<rect x="1631.5" y="40.7" width="30.5" height="15.8" fill="#76D6FF" stroke="#000" stroke-width="1.7"/>
<rect x="1631.5" y="79.9" width="30.5" height="15.3" fill="#00F900" stroke="#000" stroke-width="1.7"/>
<text font-size="23.4" transform="translate(1680.3 17.6) scale(1 1.07)">Sfull pseudovirus</text>
<text font-size="23.4" transform="translate(1680.3 56.4) scale(1 1.07)">Sdel pseudovirus</text>
<text font-size="23.4" transform="translate(1680.3 95.2) scale(1 1.07)">S(R682S, R685S) pseudovirus</text>
<text font-size="22" text-anchor="end" font-weight="bold" transform="translate(1443.5 347.3) rotate(-45)">Vero</text>
<text font-size="22" text-anchor="end" font-weight="bold" transform="translate(1545.1 347.3) rotate(-45)">Vero-TMPRSS2</text>
<text font-size="22" text-anchor="end" font-weight="bold" transform="translate(1646.5 347.3) rotate(-45)">A549-ACE2</text>
<text font-size="22" text-anchor="end" font-weight="bold" transform="translate(1748.3 347.3) rotate(-45)">Calu-3</text>
<text x="-1.9" y="499.1" font-size="44.8" font-weight="bold">d</text>
<text font-size="21.9" text-anchor="end" font-weight="bold" transform="translate(142 819.8) scale(1 1.05)">0</text>
<text font-size="21.9" text-anchor="end" font-weight="bold" transform="translate(142 781.22) scale(1 1.05)">20</text>
<text font-size="21.9" text-anchor="end" font-weight="bold" transform="translate(142 742.64) scale(1 1.05)">40</text>
<text font-size="21.9" text-anchor="end" font-weight="bold" transform="translate(142 704.06) scale(1 1.05)">60</text>
<text font-size="21.9" text-anchor="end" font-weight="bold" transform="translate(142 665.48) scale(1 1.05)">80</text>
<text font-size="21.9" text-anchor="end" font-weight="bold" transform="translate(142 626.9) scale(1 1.05)">100</text>
<text font-size="21.9" text-anchor="end" font-weight="bold" transform="translate(142 588.32) scale(1 1.05)">120</text>
<text font-size="21.9" text-anchor="end" font-weight="bold" transform="translate(142 549.74) scale(1 1.05)">140</text>
<text font-size="27.3" text-anchor="middle" font-weight="bold" transform="translate(303.8 514.5) scale(1 1.09)">Vero</text>
<text x="227" y="846.3" font-size="22.3" text-anchor="middle" font-weight="bold">Sfull</text>
<text x="377.5" y="846.3" font-size="22.3" text-anchor="middle" font-weight="bold">Sdel</text>
<text font-size="23.35" text-anchor="middle" font-weight="bold" transform="translate(66 668) rotate(-90) scale(1 1.03)">relative infection</text>
<text font-size="23.2" text-anchor="middle" font-weight="bold" transform="translate(94.5 668.1) rotate(-90) scale(1 1.03)">N-positive cells (%)</text>
<text font-size="23.3" text-anchor="middle" transform="translate(212.5 573) scale(1 1.06)">ns</text>
<text font-size="23.3" text-anchor="middle" transform="translate(362.5 588.8) scale(1 1.06)">ns</text>
<text x="243.8" y="699.62" font-size="22.7" text-anchor="middle" class="st">****</text>
<text x="277.5" y="712.12" font-size="22.7" text-anchor="middle" class="st">****</text>
<text x="395.8" y="781.62" font-size="22.7" text-anchor="middle" class="st">****</text>
<text x="427.5" y="796.12" font-size="22.7" text-anchor="middle" class="st">****</text>
<text font-size="21.9" text-anchor="end" font-weight="bold" transform="translate(550.4 827.65) scale(1 1.05)">0</text>
<text font-size="21.9" text-anchor="end" font-weight="bold" transform="translate(550.4 789.25) scale(1 1.05)">20</text>
<text font-size="21.9" text-anchor="end" font-weight="bold" transform="translate(550.4 750.85) scale(1 1.05)">40</text>
<text font-size="21.9" text-anchor="end" font-weight="bold" transform="translate(550.4 712.46) scale(1 1.05)">60</text>
<text font-size="21.9" text-anchor="end" font-weight="bold" transform="translate(550.4 674.06) scale(1 1.05)">80</text>
<text font-size="21.9" text-anchor="end" font-weight="bold" transform="translate(550.4 635.66) scale(1 1.05)">100</text>
<text font-size="21.9" text-anchor="end" font-weight="bold" transform="translate(550.4 597.26) scale(1 1.05)">120</text>
<text font-size="21.9" text-anchor="end" font-weight="bold" transform="translate(550.4 558.86) scale(1 1.05)">140</text>
<text font-size="27.3" text-anchor="middle" font-weight="bold" transform="translate(710.3 523) scale(1 1.09)">Vero-TMPRSS2</text>
<text x="634.5" y="854" font-size="22.3" text-anchor="middle" font-weight="bold">Sfull</text>
<text x="784.5" y="854" font-size="22.3" text-anchor="middle" font-weight="bold">Sdel</text>
<text font-size="22.97" text-anchor="middle" font-weight="bold" transform="translate(496 676.5) rotate(-90) scale(1 1.04)">relative infection (%)</text>
<text font-size="23.3" text-anchor="middle" transform="translate(769.5 597.5) scale(1 1.06)">ns</text>
<text x="619.5" y="668.42" font-size="22.7" text-anchor="middle" class="st">****</text>
<text x="655" y="677.22" font-size="22.7" text-anchor="middle" class="st">****</text>
<text x="682.5" y="693.42" font-size="22.7" text-anchor="middle" class="st">****</text>
<text x="799.5" y="807.62" font-size="22.7" text-anchor="middle" class="st">****</text>
<text x="829.3" y="792.12" font-size="22.7" text-anchor="middle" class="st">****</text>
<text font-size="21.9" text-anchor="end" font-weight="bold" transform="translate(966.4 827.65) scale(1 1.05)">0</text>
<text font-size="21.9" text-anchor="end" font-weight="bold" transform="translate(966.4 789.25) scale(1 1.05)">20</text>
<text font-size="21.9" text-anchor="end" font-weight="bold" transform="translate(966.4 750.85) scale(1 1.05)">40</text>
<text font-size="21.9" text-anchor="end" font-weight="bold" transform="translate(966.4 712.46) scale(1 1.05)">60</text>
<text font-size="21.9" text-anchor="end" font-weight="bold" transform="translate(966.4 674.06) scale(1 1.05)">80</text>
<text font-size="21.9" text-anchor="end" font-weight="bold" transform="translate(966.4 635.66) scale(1 1.05)">100</text>
<text font-size="21.9" text-anchor="end" font-weight="bold" transform="translate(966.4 597.26) scale(1 1.05)">120</text>
<text font-size="21.9" text-anchor="end" font-weight="bold" transform="translate(966.4 558.86) scale(1 1.05)">140</text>
<text font-size="27.3" text-anchor="middle" font-weight="bold" transform="translate(1125.9 523) scale(1 1.09)">A549-ACE2</text>
<text x="1050.8" y="854" font-size="22.3" text-anchor="middle" font-weight="bold">Sfull</text>
<text x="1200" y="854" font-size="22.3" text-anchor="middle" font-weight="bold">Sdel</text>
<text font-size="22.97" text-anchor="middle" font-weight="bold" transform="translate(912.2 676.5) rotate(-90) scale(1 1.04)">relative infection (%)</text>
<text font-size="23.3" text-anchor="middle" transform="translate(1036.8 600.5) scale(1 1.06)">ns</text>
<text font-size="23.3" text-anchor="middle" transform="translate(1070 601.8) scale(1 1.06)">ns</text>
<text font-size="23.3" text-anchor="middle" transform="translate(1098 601.8) scale(1 1.06)">ns</text>
<text font-size="23.3" text-anchor="middle" transform="translate(1185 601.8) scale(1 1.06)">ns</text>
<text x="1217" y="778.32" font-size="22.7" text-anchor="middle" class="st">****</text>
<text x="1246.3" y="756.32" font-size="22.7" text-anchor="middle" class="st">****</text>
<text font-size="21.9" text-anchor="end" font-weight="bold" transform="translate(1379.7 828.2) scale(1 1.05)">0</text>
<text font-size="21.9" text-anchor="end" font-weight="bold" transform="translate(1379.7 789.87) scale(1 1.05)">20</text>
<text font-size="21.9" text-anchor="end" font-weight="bold" transform="translate(1379.7 751.54) scale(1 1.05)">40</text>
<text font-size="21.9" text-anchor="end" font-weight="bold" transform="translate(1379.7 713.21) scale(1 1.05)">60</text>
<text font-size="21.9" text-anchor="end" font-weight="bold" transform="translate(1379.7 674.88) scale(1 1.05)">80</text>
<text font-size="21.9" text-anchor="end" font-weight="bold" transform="translate(1379.7 636.55) scale(1 1.05)">100</text>
<text font-size="21.9" text-anchor="end" font-weight="bold" transform="translate(1379.7 598.22) scale(1 1.05)">120</text>
<text font-size="21.9" text-anchor="end" font-weight="bold" transform="translate(1379.7 559.89) scale(1 1.05)">140</text>
<text font-size="27.3" text-anchor="middle" font-weight="bold" transform="translate(1539.4 523) scale(1 1.09)">Calu-3</text>
<text x="1464.5" y="854" font-size="22.3" text-anchor="middle" font-weight="bold">Sfull</text>
<text x="1613" y="854" font-size="22.3" text-anchor="middle" font-weight="bold">Sdel</text>
<text font-size="22.97" text-anchor="middle" font-weight="bold" transform="translate(1326 676.5) rotate(-90) scale(1 1.04)">relative infection (%)</text>
<text font-size="23.3" text-anchor="middle" transform="translate(1480.8 578) scale(1 1.06)">ns</text>
<text x="1448.3" y="809.02" font-size="22.7" text-anchor="middle" class="st">****</text>
<text x="1623.8" y="688.42" font-size="22.7" text-anchor="middle" class="st">****</text>
<text x="1593.3" y="560.72" font-size="22.7" text-anchor="middle" class="st">****</text>
<text x="1579.3" y="577.02" font-size="22.7" text-anchor="middle" class="st">****</text>
<line x1="1555.8" y1="557.5" x2="1628.8" y2="557.5" stroke="#000" stroke-width="2.9" stroke-linecap="round"/>
<line x1="1555.8" y1="574.3" x2="1604.5" y2="574.3" stroke="#000" stroke-width="2.9" stroke-linecap="round"/>
<path d="M1594.5 704.3V689H1660V769.5" fill="none" stroke="#000" stroke-width="2.9"/>
<rect x="1685.4" y="532.9" width="24.6" height="15.5" fill="#FFFFFF" stroke="#000" stroke-width="1.7"/>
<text font-size="23.4" transform="translate(1715.5 548.5) scale(1 1.06)">Untreated</text>
<rect x="1685.4" y="560.65" width="24.6" height="15.5" fill="#FF9300" stroke="#000" stroke-width="1.7"/>
<text font-size="23.4" transform="translate(1715.5 576.12) scale(1 1.06)">Camostat</text>
<rect x="1685.4" y="588.4" width="24.6" height="15.5" fill="#00F900" stroke="#000" stroke-width="1.7"/>
<text font-size="23.4" transform="translate(1715.5 603.74) scale(1 1.06)">E-64d</text>
<rect x="1685.4" y="616.15" width="24.6" height="15.5" fill="#76D6FF" stroke="#000" stroke-width="1.7"/>
<text font-size="23.4" transform="translate(1715.5 631.36) scale(1 1.06)">Camostat+E-64d</text>
</svg>
</body>
</html>
